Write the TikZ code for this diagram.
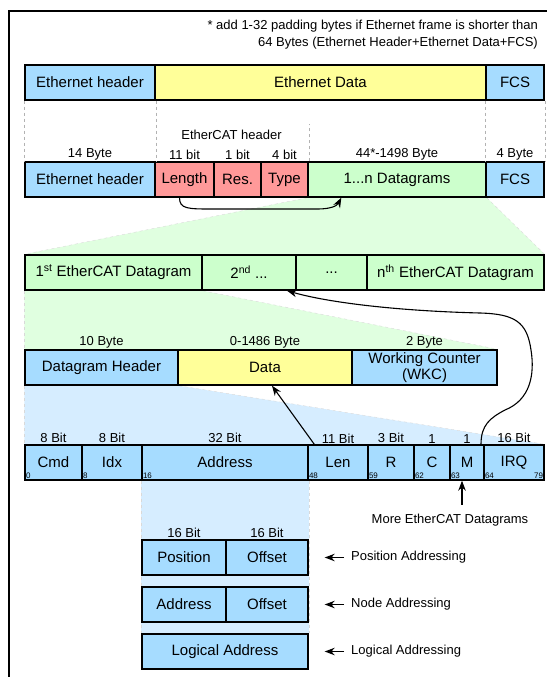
\documentclass[tikz,border=0pt]{standalone}
\usepackage{fontspec}
\setmainfont{Liberation Sans}
\usepackage{xcolor}
\usetikzlibrary{arrows.meta,positioning,backgrounds}

\definecolor{ethblue}{RGB}{166,220,255}
\definecolor{datyellow}{RGB}{255,255,153}
\definecolor{ecatred}{RGB}{255,153,153}
\definecolor{dgrgreen}{RGB}{204,255,204}
\definecolor{zoomgreen}{RGB}{224,255,224}
\definecolor{zoomblue}{RGB}{214,237,255}

\begin{document}
\begin{tikzpicture}[x=1pt,y=-1pt,
fld/.style={draw,line width=1.4pt,minimum height=35pt,inner sep=0pt,font=\fontsize{15}{17}\selectfont},
eth/.style={fld,fill=ethblue},
ydat/.style={fld,fill=datyellow},
ecat/.style={fld,fill=ecatred},
dgr/.style={fld,fill=dgrgreen},
size/.style={font=\fontsize{13}{17}\selectfont,inner sep=1pt},
bitno/.style={font=\fontsize{8}{9}\selectfont,inner sep=1.5pt},
arr/.style={-{Stealth[length=10pt,width=7.5pt]},line width=1.1pt},
guide/.style={draw=gray!60,dashed,thin},
zoomarea/.style={draw=gray!30,dashed,thin}]
\useasboundingbox (0,0) rectangle (547,677);
\draw[line width=1.2pt] (9,677) -- (9,11) -- (547,11);
\node[size,align=right,anchor=north east] (note) at (539,19) {* add 1-32 padding bytes if Ethernet frame is shorter than\\64 Bytes (Ethernet Header+Ethernet Data+FCS)};
% Ethernet frame
\node[eth,minimum width=130pt] (eh) at (90,82.5) {Ethernet header};
\node[ydat,minimum width=331pt] (ed) at (320.5,82.5) {Ethernet Data};
\node[eth,minimum width=58pt] (fcs) at (515,82.5) {FCS};
% EtherCAT frame
\node[eth,minimum width=130pt] (eh2) at (90,179.5) {Ethernet header};
\node[ecat,minimum width=59pt] (len) at (184.5,179.5) {Length};
\node[ecat,minimum width=47pt] (res) at (237.5,179.5) {Res.};
\node[ecat,minimum width=47pt] (ty) at (284.5,179.5) {Type};
\node[dgr,minimum width=178pt] (dg) at (397,179.5) {1...n Datagrams};
\node[eth,minimum width=58pt] (fcs2) at (515,179.5) {FCS};
\node[size,above=0pt] (s14) at (eh2.north) {14 Byte};
\node[size,above=0pt] (s11) at (len.north) {11 bit};
\node[size,above=0pt] (s1) at (res.north) {1 bit};
\node[size,above=0pt] (s4) at (ty.north) {4 bit};
\node[size,above=0pt] (s44) at (dg.north) {44*-1498 Byte};
\node[size,above=0pt] (s4b) at (fcs2.north) {4 Byte};
\node[size] (echdr) at (231.5,135) {EtherCAT header};
\draw[guide] (eh.south west) -- (eh2.north west);
\draw[guide] (eh.south east) -- (eh2.north east);
\draw[guide] (fcs.south west) -- (fcs2.north west);
\draw[guide] (fcs.south east) -- (fcs2.north east);
\draw[guide] (ty.north east) -- ++(0,-37);
\draw[arr] ([xshift=-5pt]len.south) .. controls (179.5,209) and (188,209) .. (212,209)
  -- (318,209) .. controls (330,209) and (337,206) .. ([xshift=34pt]dg.south west);
% datagrams
\node[dgr,minimum width=177pt] (d1) at (113.5,272.5) {1\textsuperscript{st} EtherCAT Datagram};
\node[dgr,minimum width=94pt] (d2) at (249,272.5) {2\textsuperscript{nd} ...};
\node[dgr,minimum width=71pt] (d3) at (331.5,272.5) {...};
\node[dgr,minimum width=177pt] (dn) at (455.5,272.5) {n\textsuperscript{th} EtherCAT Datagram};
% datagram
\node[eth,minimum width=153pt] (dh) at (101.5,367.5) {Datagram Header};
\node[ydat,minimum width=174pt] (dat) at (265,367.5) {Data};
\node[eth,minimum width=145pt,align=center,font=\fontsize{15}{16}\selectfont] (wkc) at (424.5,367.5) {Working Counter\\(WKC)};
\node[size,above=0pt] (s10) at (dh.north) {10 Byte};
\node[size,above=0pt] (s1486) at (dat.north) {0-1486 Byte};
\node[size,above=0pt] (s2) at (wkc.north) {2 Byte};
% datagram header
\node[eth,minimum width=57pt] (cmd) at (53.5,462.5) {Cmd};
\node[eth,minimum width=60pt] (idx) at (112,462.5) {Idx};
\node[eth,minimum width=166pt] (ad) at (225,462.5) {Address};
\node[eth,minimum width=60pt] (ln) at (338,462.5) {Len};
\node[eth,minimum width=46pt] (r) at (391,462.5) {R};
\node[eth,minimum width=36pt] (c) at (432,462.5) {C};
\node[eth,minimum width=34pt] (m) at (467,462.5) {M};
\node[eth,minimum width=60pt] (irq) at (514,462.5) {IRQ};
\node[size,above=0pt] (b1) at (cmd.north) {8 Bit};
\node[size,above=0pt] (b2) at (idx.north) {8 Bit};
\node[size,above=0pt] (b3) at (ad.north) {32 Bit};
\node[size,above=0pt] (b4) at (ln.north) {11 Bit};
\node[size,above=0pt] (b5) at (r.north) {3 Bit};
\node[size,above=0pt] (b6) at (c.north) {1};
\node[size,above=0pt] (b7) at (m.north) {1};
\node[size,above=0pt] (b8) at (irq.north) {16 Bit};
\node[bitno,anchor=south west] (n0) at (cmd.south west) {0};
\node[bitno,anchor=south west] (n8) at (idx.south west) {8};
\node[bitno,anchor=south west] (n16) at (ad.south west) {16};
\node[bitno,anchor=south west] (n48) at (ln.south west) {48};
\node[bitno,anchor=south west] (n59) at (r.south west) {59};
\node[bitno,anchor=south west] (n62) at (c.south west) {62};
\node[bitno,anchor=south west] (n63) at (m.south west) {63};
\node[bitno,anchor=south west] (n64) at (irq.south west) {64};
\node[bitno,anchor=south east] (n79) at (irq.south east) {79};
\draw[arr] ([xshift=7pt]ln.north west) -- ([xshift=7pt]dat.south);
\draw[arr] ([xshift=14pt]m.north) .. controls (481,425) and (490,418) .. (505,410)
  .. controls (530,400) and (535,375) .. (531,350)
  .. controls (527,322) and (515,314) .. (480,313)
  .. controls (400,311) and (330,303) .. ([xshift=38pt]d2.south);
\node[size] (more) at (450,520) {More EtherCAT Datagrams};
\coordinate (mx) at ([xshift=-5pt]m.south);
\coordinate (mtail) at (more.north -| mx);
\draw[arr] ([yshift=8pt]mtail) -- (mx);
% addressing modes
\node[eth,minimum width=84pt] (pos) at (184,557.5) {Position};
\node[eth,minimum width=82pt] (off1) at (267,557.5) {Offset};
\node[eth,minimum width=84pt] (nadr) at (184,604.5) {Address};
\node[eth,minimum width=82pt] (off2) at (267,604.5) {Offset};
\node[eth,minimum width=166pt] (lad) at (225,651.5) {Logical Address};
\node[size,above=0pt] (p16) at (pos.north) {16 Bit};
\node[size,above=0pt] (o16) at (off1.north) {16 Bit};
\node[size,anchor=west] (padr) at (350,557.5) {Position Addressing};
\node[size,anchor=west] (nodeadr) at (350,604.5) {Node Addressing};
\node[size,anchor=west] (logadr) at (350,651.5) {Logical Addressing};
\draw[arr] ([xshift=-6pt]padr.west) -- ([xshift=16pt]off1.east);
\draw[arr] ([xshift=-6pt]nodeadr.west) -- ([xshift=16pt]off2.east);
\draw[arr] ([xshift=-6pt]logadr.west) -- ([xshift=16pt]lad.east);
% zoom areas
\begin{scope}[on background layer]
\fill[zoomgreen] (dg.south west) -- (d1.north west) -- (dn.north east) -- (dg.south east) -- cycle;
\draw[zoomarea] (dg.south west) -- (d1.north west);
\draw[zoomarea] (dg.south east) -- (dn.north east);
\fill[zoomgreen] (d1.south west) -- (dh.north west) -- (wkc.north east) -- (d1.south east) -- cycle;
\draw[zoomarea] (d1.south west) -- (dh.north west);
\draw[zoomarea] (d1.south east) -- (wkc.north east);
\fill[zoomblue] (dh.south west) -- (cmd.north west) -- (irq.north east) -- (dh.south east) -- cycle;
\draw[zoomarea] (dh.south west) -- (cmd.north west);
\draw[zoomarea] (dh.south east) -- (irq.north east);
\fill[zoomblue] (ad.south west) rectangle (lad.north east);
\draw[zoomarea] (ad.south west) -- (lad.north west);
\draw[zoomarea] (ad.south east) -- (lad.north east);
\end{scope}
\end{tikzpicture}
\end{document}
